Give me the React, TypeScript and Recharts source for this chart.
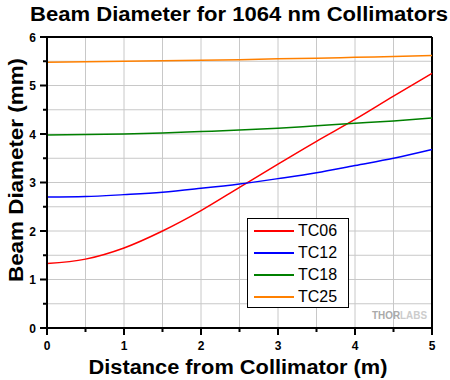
import React from 'react';
import {
  LineChart, Line, XAxis, YAxis, CartesianGrid, ReferenceLine,
} from 'recharts';

const distance = [0, 0.5, 1, 1.5, 2, 2.5, 3, 3.5, 4, 4.5, 5];
const tc06 = [1.33, 1.42, 1.65, 2.0, 2.42, 2.9, 3.38, 3.85, 4.3, 4.78, 5.25];
const tc12 = [2.7, 2.71, 2.75, 2.8, 2.88, 2.97, 3.08, 3.2, 3.35, 3.5, 3.68];
const tc18 = [3.98, 3.99, 4.0, 4.02, 4.05, 4.08, 4.12, 4.17, 4.22, 4.27, 4.33];
const tc25 = [5.48, 5.49, 5.5, 5.51, 5.52, 5.53, 5.55, 5.56, 5.58, 5.6, 5.62];

const xTicks = [0, 0.5, 1, 1.5, 2, 2.5, 3, 3.5, 4, 4.5, 5];
const yTicks = [0, 0.5, 1, 1.5, 2, 2.5, 3, 3.5, 4, 4.5, 5, 5.5, 6];

const series = [
  { key: 'TC06', color: '#ff0000', values: tc06 },
  { key: 'TC12', color: '#0000ff', values: tc12 },
  { key: 'TC18', color: '#008000', values: tc18 },
  { key: 'TC25', color: '#ff8000', values: tc25 },
];

const data = distance.map((d, i) => {
  const row: Record<string, number> = { d };
  series.forEach(s => { row[s.key] = s.values[i]; });
  return row;
});

const FONT = 'Arial, "Liberation Sans", sans-serif';

// plot box edges (used by the tick renderers)
const PLOT_LEFT = 47;
const PLOT_BOTTOM = 328;

const YTick = (props: any) => {
  const { y, payload } = props;
  const v = payload.value;
  const major = Number.isInteger(v);
  return (
    <g>
      <line x1={PLOT_LEFT} x2={major ? PLOT_LEFT - 7 : PLOT_LEFT - 4} y1={y} y2={y} stroke="#000" strokeWidth={2} />
      {major && (
        <text x={36} y={y} dy={4.5} textAnchor="end" fontFamily={FONT} fontWeight="bold" fontSize={12} fill="#000">
          {v}
        </text>
      )}
    </g>
  );
};

const XTick = (props: any) => {
  const { x, payload } = props;
  const v = payload.value;
  const major = Number.isInteger(v);
  return (
    <g>
      <line x1={x} x2={x} y1={PLOT_BOTTOM} y2={major ? PLOT_BOTTOM + 7 : PLOT_BOTTOM + 4} stroke="#000" strokeWidth={2} />
      {major && (
        <text x={x} y={350} textAnchor="middle" fontFamily={FONT} fontWeight="bold" fontSize={12} fill="#000">
          {v}
        </text>
      )}
    </g>
  );
};

function LegendBox() {
  return (
    <div style={{
      position: 'absolute', left: 247, top: 218, width: 102, height: 90,
      border: '1px solid #000', background: '#fff', boxSizing: 'border-box',
    }}>
      {series.map((s, i) => (
        <div key={s.key} style={{ position: 'absolute', left: 0, top: 1 + i * 22, height: 22, display: 'flex', alignItems: 'center' }}>
          <div style={{ width: 40, height: 2, background: s.color, marginLeft: 6, marginRight: 4 }} />
          <span style={{ fontFamily: FONT, fontSize: 16, color: '#000', lineHeight: '22px' }}>{s.key}</span>
        </div>
      ))}
    </div>
  );
}

export default function App() {
  return (
    <div style={{ position: 'absolute', left: 0, top: 0, width: 450, height: 380, background: '#fff' }}>
      <LineChart
        width={450}
        height={380}
        data={data}
        margin={{ top: 37, right: 18, bottom: 22, left: 7 }}
      >
        <text x={239} y={21} textAnchor="middle" fontFamily={FONT} fontWeight="bold" fontSize={20}
          textLength={418} lengthAdjust="spacingAndGlyphs" fill="#000">
          Beam Diameter for 1064 nm Collimators
        </text>
        <text x={238} y={374} textAnchor="middle" fontFamily={FONT} fontWeight="bold" fontSize={20}
          textLength={299} lengthAdjust="spacingAndGlyphs" fill="#000">
          Distance from Collimator (m)
        </text>
        <text x={23} y={170} transform="rotate(-90 23 170)" textAnchor="middle" fontFamily={FONT} fontWeight="bold" fontSize={21}
          textLength={224} lengthAdjust="spacingAndGlyphs" fill="#000">
          Beam Diameter (mm)
        </text>
        <CartesianGrid stroke="#c8c8c8" strokeWidth={1} />
        <XAxis
          dataKey="d"
          type="number"
          domain={[0, 5]}
          ticks={xTicks}
          interval={0}
          height={30}
          axisLine={{ stroke: '#000', strokeWidth: 2 }}
          tickLine={false}
          tick={<XTick />}
        />
        <YAxis
          type="number"
          domain={[0, 6]}
          ticks={yTicks}
          interval={0}
          width={40}
          axisLine={{ stroke: '#000', strokeWidth: 2 }}
          tickLine={false}
          tick={<YTick />}
        />
        <ReferenceLine y={6} stroke="#000" strokeWidth={2} />
        <ReferenceLine x={5} stroke="#000" strokeWidth={2} />
        {series.map(s => (
          <Line
            key={s.key}
            dataKey={s.key}
            type="monotone"
            stroke={s.color}
            strokeWidth={1.5}
            dot={false}
            isAnimationActive={false}
          />
        ))}
        <text x={372} y={319} fontFamily={FONT} fontWeight="bold" fontSize={10}
          textLength={55} lengthAdjust="spacingAndGlyphs" fill="#aaaaaa">
          THOR<tspan fill="#cccccc">LABS</tspan>
        </text>
      </LineChart>
      <LegendBox />
    </div>
  );
}
